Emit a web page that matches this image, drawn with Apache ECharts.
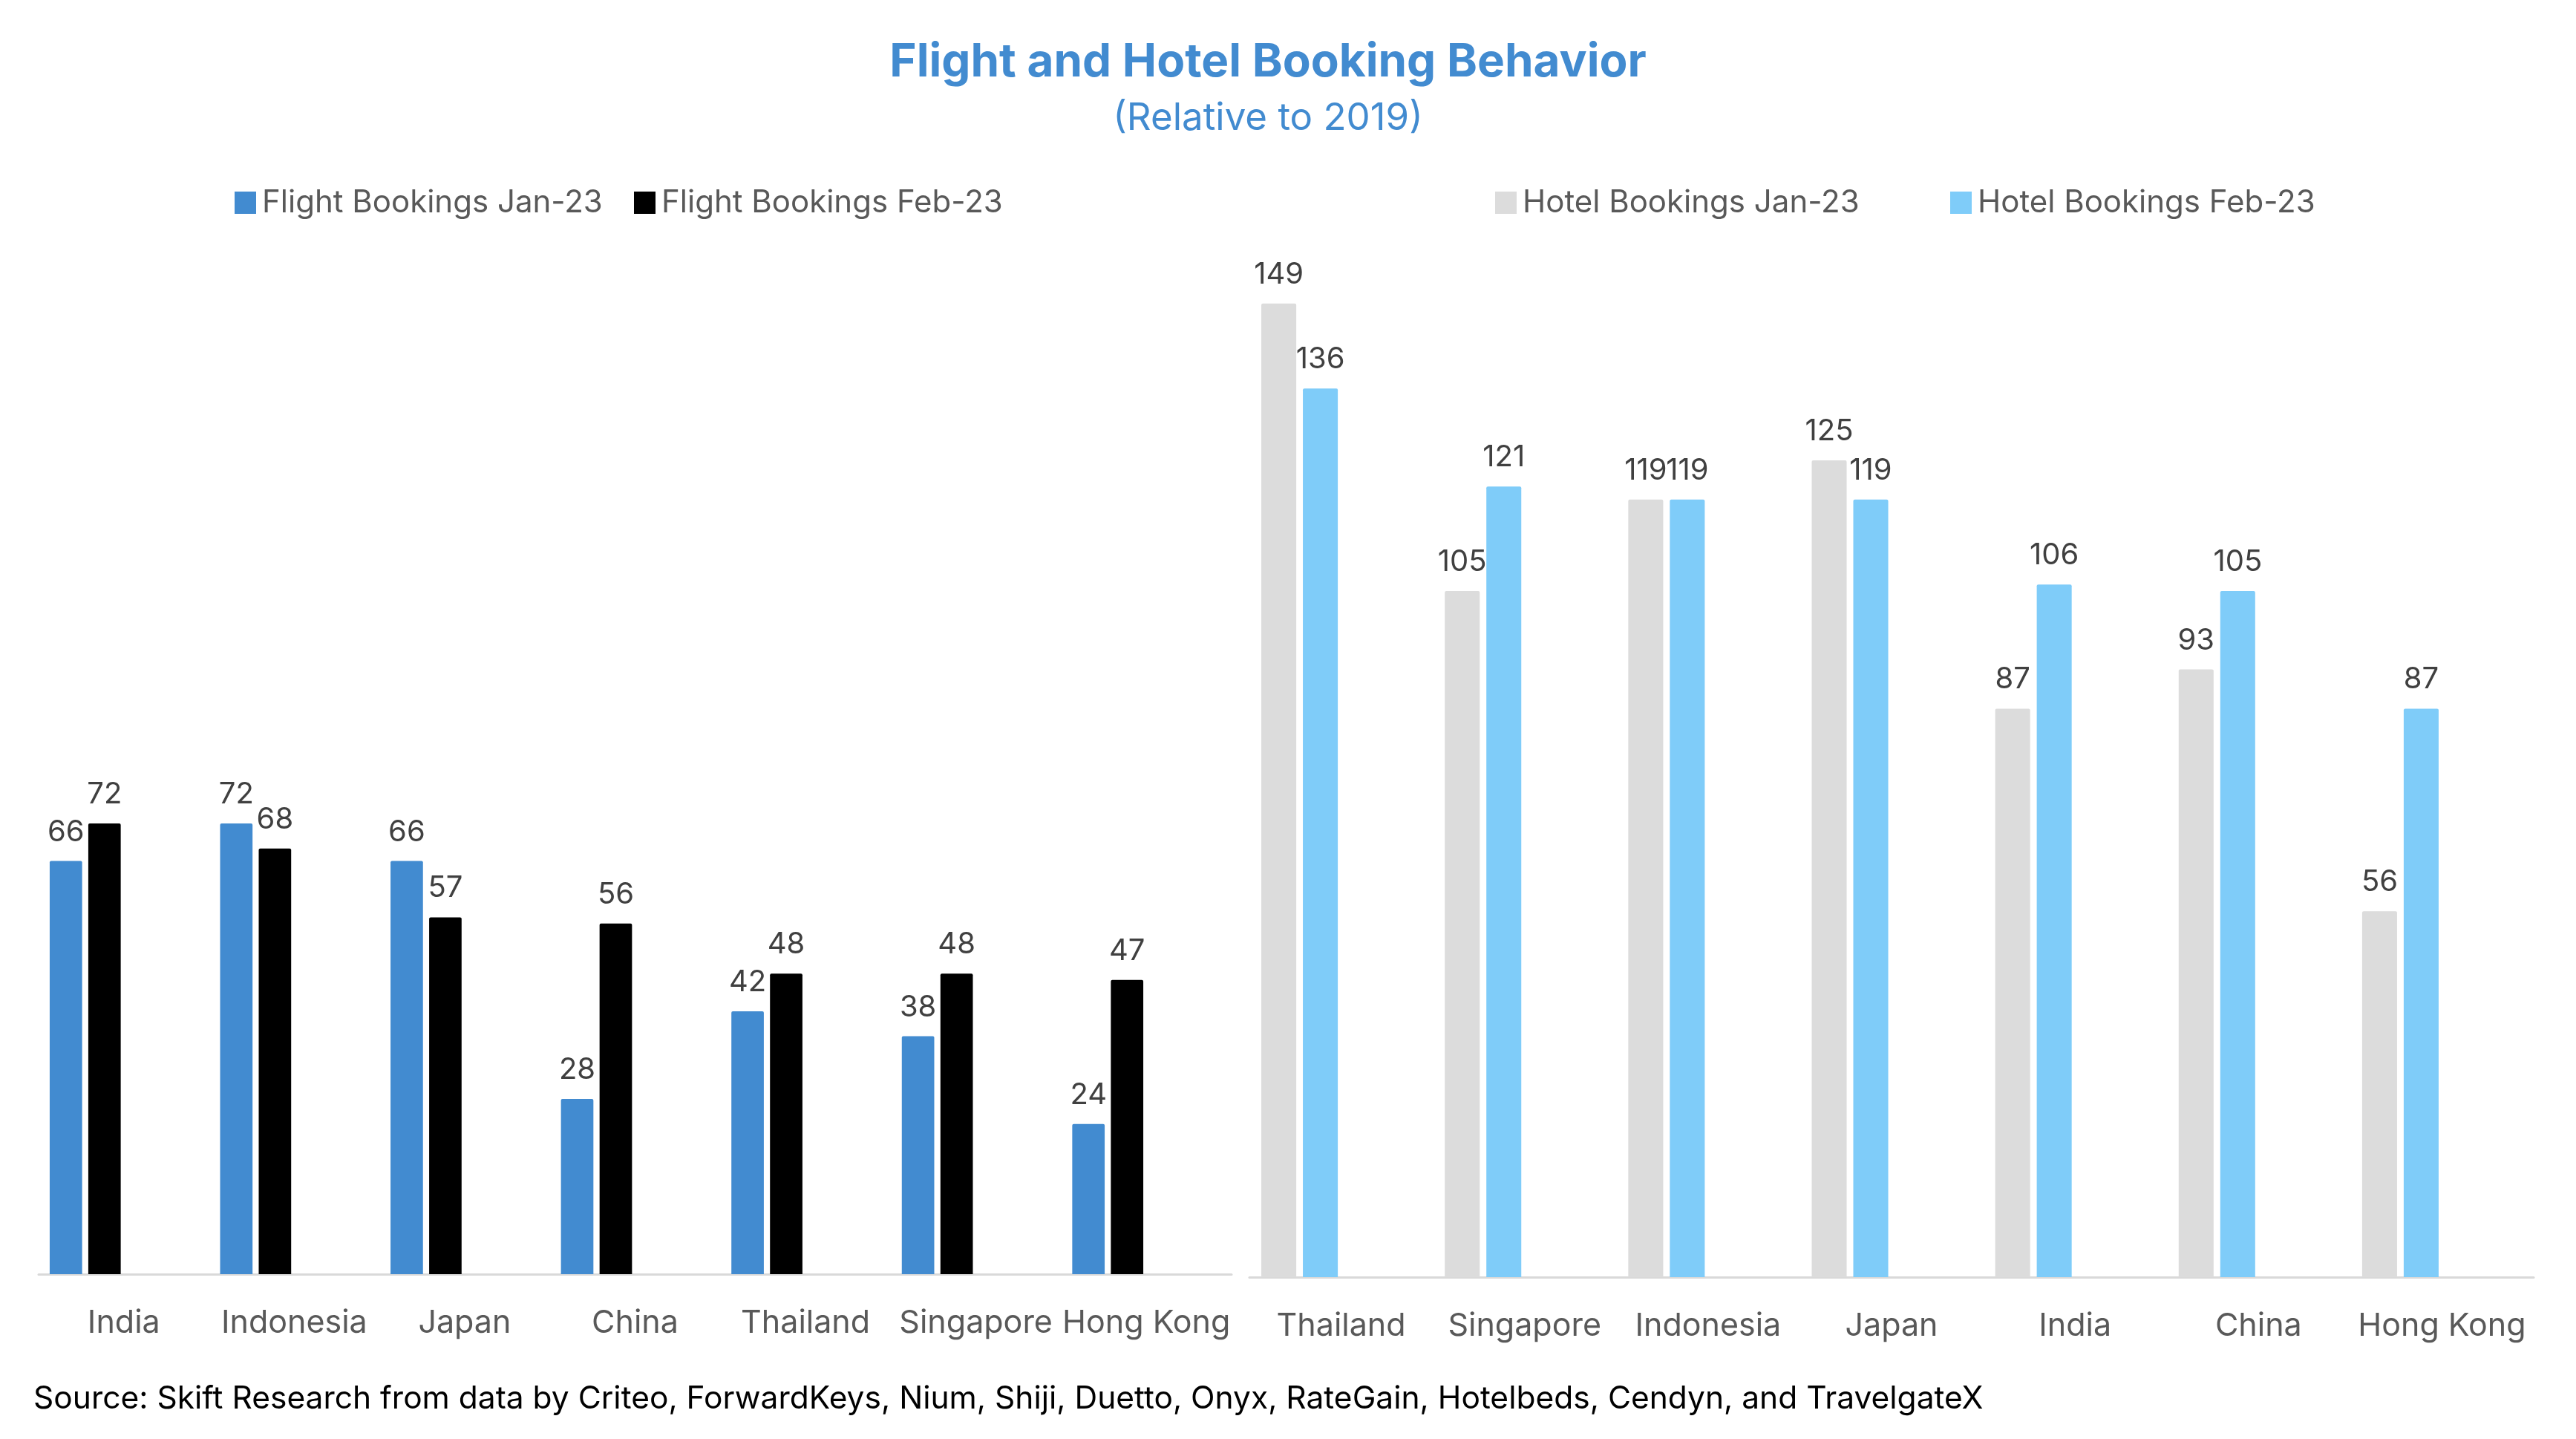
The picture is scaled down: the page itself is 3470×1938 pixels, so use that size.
<!DOCTYPE html>
<html>
<head>
<meta charset="utf-8">
<script src="https://cdn.jsdelivr.net/npm/echarts@6/dist/echarts.min.js"></script>
<style>
html,body{margin:0;padding:0;background:#fff;}
#chart{width:3470px;height:1938px;}
</style>
</head>
<body>
<div id="chart"></div>
<script>
const flightCategories = ['India','Indonesia','Japan','China','Thailand','Singapore','Hong Kong'];
const flightJan = [66,72,66,28,42,38,24];
const flightFeb = [72,68,57,56,48,48,47];
const hotelCategories = ['Thailand','Singapore','Indonesia','Japan','India','China','Hong Kong'];
const hotelJan = [149,105,119,125,87,93,56];
const hotelFeb = [136,121,119,119,106,105,87];
const seriesNames = ['Flight Bookings Jan-23','Flight Bookings Feb-23','Hotel Bookings Jan-23','Hotel Bookings Feb-23'];
const titleText = 'Flight and Hotel Booking Behavior';
const subtitleText = '(Relative to 2019)';
const sourceText = 'Source: Skift Research from data by Criteo, ForwardKeys, Nium, Shiji, Duetto, Onyx, RateGain, Hotelbeds, Cendyn, and TravelgateX';

const FONT = 'Inter, "Liberation Sans", Arial, sans-serif';
const colors = ['#428BD0','#000000','#DCDCDC','#7FCCF9'];
const empty = flightCategories.map(() => null);

function valueLabel() {
  return {show:true, position:'top', distance:19, color:'#404040', fontSize:40, fontFamily:FONT};
}
function barSeries(name, data, idx, color, showLabel) {
  return {
    name, type:'bar', data, xAxisIndex:idx, yAxisIndex:idx,
    barGap:'19%', barCategoryGap:'13%',
    itemStyle:{color, borderRadius:[2,2,0,0]},
    label: showLabel ? valueLabel() : {show:false},
    emphasis:{disabled:true}, animation:false
  };
}
function legend(name, x) {
  return {
    data:[name], left:x, top:252, padding:0, itemWidth:29, itemHeight:30, itemGap:0,
    icon:'rect', textStyle:{color:'#595959', fontSize:42, fontFamily:FONT, padding:[0,0,0,3]},
    selectedMode:false
  };
}
const xAxisBase = {
  type:'category', axisTick:{show:false},
  axisLine:{lineStyle:{color:'#D9D9D9', width:3}},
  axisLabel:{color:'#595959', fontSize:43, fontFamily:FONT, margin:45, interval:0}
};
const yAxisBase = {type:'value', min:0, max:160, show:false, splitLine:{show:false}};

const chart = echarts.init(document.getElementById('chart'), null, {renderer:'canvas'});
chart.setOption({
  backgroundColor:'#ffffff',
  animation:false,
  color:colors,
  graphic:[
    {type:'text', x:1708, y:84, style:{text:titleText, fill:'#428BD0', font:'bold 62px ' + FONT, align:'center', verticalAlign:'middle', textAlign:'center', textVerticalAlign:'middle'}},
    {type:'text', x:1708, y:160, style:{text:subtitleText, fill:'#428BD0', font:'51px ' + FONT, align:'center', verticalAlign:'middle', textAlign:'center', textVerticalAlign:'middle'}},
    {type:'text', x:45, y:1884, style:{text:sourceText, fill:'#000000', font:'42.5px ' + FONT, verticalAlign:'middle', textVerticalAlign:'middle'}}
  ],
  legend:[
    legend(seriesNames[0], 316),
    legend(seriesNames[1], 854),
    legend(seriesNames[2], 2014),
    legend(seriesNames[3], 2627)
  ],
  grid:[
    {left:52, width:1607, top:367, height:1349},
    {left:1683, width:1730, top:312, height:1408}
  ],
  xAxis:[
    Object.assign({}, xAxisBase, {gridIndex:0, data:flightCategories}),
    Object.assign({}, xAxisBase, {gridIndex:1, data:hotelCategories})
  ],
  yAxis:[
    Object.assign({}, yAxisBase, {gridIndex:0}),
    Object.assign({}, yAxisBase, {gridIndex:1})
  ],
  series:[
    barSeries(seriesNames[0], flightJan, 0, colors[0], true),
    barSeries(seriesNames[1], flightFeb, 0, colors[1], true),
    barSeries('_pad1', empty, 0, 'rgba(0,0,0,0)', false),
    barSeries('_pad2', empty, 0, 'rgba(0,0,0,0)', false),
    barSeries(seriesNames[2], hotelJan, 1, colors[2], true),
    barSeries(seriesNames[3], hotelFeb, 1, colors[3], true),
    barSeries('_pad3', empty, 1, 'rgba(0,0,0,0)', false),
    barSeries('_pad4', empty, 1, 'rgba(0,0,0,0)', false)
  ]
});
</script>
</body>
</html>
